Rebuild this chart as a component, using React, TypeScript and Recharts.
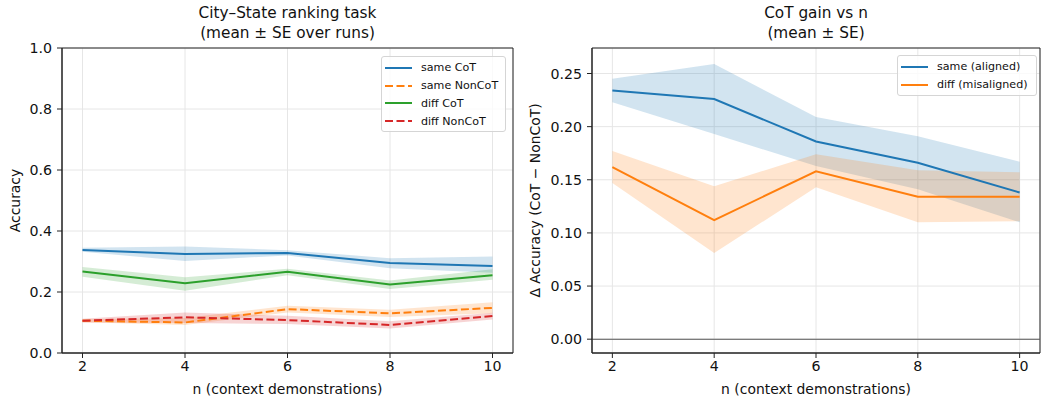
import { ComposedChart, Line, Area, XAxis, YAxis, CartesianGrid, ReferenceLine, ReferenceArea, Legend } from 'recharts';

const nValues = [2, 4, 6, 8, 10];
const xTicks = [2, 4, 6, 8, 10];

// left panel: accuracy mean and SE band edges
const sameCoT = [0.338, 0.325, 0.328, 0.295, 0.285];
const sameCoTLo = [0.332, 0.302, 0.32, 0.278, 0.263];
const sameCoTHi = [0.345, 0.349, 0.337, 0.311, 0.316];
const sameNonCoT = [0.106, 0.1, 0.144, 0.13, 0.148];
const sameNonCoTLo = [0.101, 0.092, 0.133, 0.118, 0.13];
const sameNonCoTHi = [0.111, 0.115, 0.155, 0.142, 0.166];
const diffCoT = [0.267, 0.229, 0.266, 0.225, 0.255];
const diffCoTLo = [0.25, 0.204, 0.255, 0.21, 0.24];
const diffCoTHi = [0.282, 0.248, 0.276, 0.238, 0.275];
const diffNonCoT = [0.106, 0.117, 0.108, 0.092, 0.121];
const diffNonCoTLo = [0.1, 0.098, 0.095, 0.08, 0.11];
const diffNonCoTHi = [0.112, 0.133, 0.122, 0.104, 0.132];
const leftYTicks = [0, 0.2, 0.4, 0.6, 0.8, 1.0];

// right panel: CoT gain
const sameGain = [0.234, 0.226, 0.186, 0.166, 0.138];
const sameGainLo = [0.223, 0.193, 0.163, 0.141, 0.11];
const sameGainHi = [0.245, 0.259, 0.209, 0.191, 0.167];
const diffGain = [0.162, 0.112, 0.158, 0.134, 0.134];
const diffGainLo = [0.147, 0.081, 0.143, 0.11, 0.111];
const diffGainHi = [0.177, 0.144, 0.174, 0.159, 0.157];
const rightYTicks = [0, 0.05, 0.1, 0.15, 0.2, 0.25];

const BLUE = '#1f77b4';
const ORANGE = '#ff7f0e';
const GREEN = '#2ca02c';
const RED = '#d62728';
const FONT = '"DejaVu Sans", sans-serif';
const TEXT = '#111';

const leftData = nValues.map((n, i) => ({
  n,
  sameCoT: sameCoT[i],
  sameCoTBand: [sameCoTLo[i], sameCoTHi[i]],
  sameNonCoT: sameNonCoT[i],
  sameNonCoTBand: [sameNonCoTLo[i], sameNonCoTHi[i]],
  diffCoT: diffCoT[i],
  diffCoTBand: [diffCoTLo[i], diffCoTHi[i]],
  diffNonCoT: diffNonCoT[i],
  diffNonCoTBand: [diffNonCoTLo[i], diffNonCoTHi[i]],
}));

const rightData = nValues.map((n, i) => ({
  n,
  same: sameGain[i],
  sameBand: [sameGainLo[i], sameGainHi[i]],
  diff: diffGain[i],
  diffBand: [diffGainLo[i], diffGainHi[i]],
}));

const leftSeries = [
  { key: 'sameCoT', name: 'same CoT', color: BLUE, dash: undefined },
  { key: 'sameNonCoT', name: 'same NonCoT', color: ORANGE, dash: '8 3.5' },
  { key: 'diffCoT', name: 'diff CoT', color: GREEN, dash: undefined },
  { key: 'diffNonCoT', name: 'diff NonCoT', color: RED, dash: '8 3.5' },
];

const rightSeries = [
  { key: 'same', name: 'same (aligned)', color: BLUE, dash: undefined },
  { key: 'diff', name: 'diff (misaligned)', color: ORANGE, dash: undefined },
];

type S = { key: string; name: string; color: string; dash?: string };

function LegendBox({ items, width }: { items: S[]; width: number }) {
  return (
    <div
      style={{
        width,
        boxSizing: 'border-box',
        border: '1px solid #d5d5d5',
        borderRadius: 3,
        background: 'rgba(255,255,255,0.8)',
        padding: '2px 4px 1px 3px',
        fontFamily: FONT,
        fontSize: 11.1,
        color: TEXT,
      }}
    >
      {items.map((s) => (
        <div key={s.key} style={{ display: 'flex', alignItems: 'center', height: 17.8 }}>
          <svg width={28} height={8} style={{ marginRight: 8 }}>
            <line x1={0} x2={27} y1={4} y2={4} stroke={s.color} strokeWidth={2} strokeDasharray={s.dash} />
          </svg>
          <span>{s.name}</span>
        </div>
      ))}
    </div>
  );
}

const tickStyle = { fontSize: 14.2, fill: TEXT, fontFamily: FONT };
const labelStyle = { fontSize: 13.9, fill: TEXT, fontFamily: FONT };
const axisStroke = '#222';

function Title({ lines, center }: { lines: string[]; center: number }) {
  return (
    <div
      style={{
        position: 'absolute',
        left: center - 200,
        width: 400,
        top: 3,
        textAlign: 'center',
        fontFamily: FONT,
        fontSize: 15.3,
        lineHeight: '20px',
        color: TEXT,
      }}
    >
      {lines.map((l) => (
        <div key={l}>{l}</div>
      ))}
    </div>
  );
}

export default function App() {
  return (
    <div style={{ position: 'absolute', left: 0, top: 0, width: 1041, height: 398, background: '#fff' }}>
      <Title lines={['City–State ranking task', '(mean ± SE over runs)']} center={287.5} />
      <Title lines={['CoT gain vs n', '(mean ± SE)']} center={816} />

      <div style={{ position: 'absolute', left: 0, top: 0 }}>
        <ComposedChart width={520} height={398} data={leftData} margin={{ top: 48, right: 7, bottom: 0, left: 12 }}>
          <CartesianGrid stroke="#e6e6e6" strokeWidth={1} />
          <XAxis
            dataKey="n"
            type="number"
            domain={[1.6, 10.4]}
            ticks={xTicks}
            height={45}
            tick={tickStyle}
            tickSize={5}
            tickMargin={3}
            stroke={axisStroke}
            label={{ value: 'n (context demonstrations)', position: 'insideBottom', offset: 4, style: labelStyle }}
          />
          <YAxis
            type="number"
            domain={[0, 1]}
            ticks={leftYTicks}
            width={50}
            tick={tickStyle}
            tickSize={5}
            tickMargin={5}
            tickFormatter={(v: number) => v.toFixed(1)}
            stroke={axisStroke}
            label={{ value: 'Accuracy', angle: -90, position: 'insideLeft', offset: 3, style: { ...labelStyle, textAnchor: 'middle' } }}
          />
          <ReferenceArea x1={1.6} x2={10.4} y1={0} y2={1} fill="none" stroke={axisStroke} strokeWidth={1} />
          {leftSeries.map((s) => (
            <Area
              key={s.key + 'band'}
              dataKey={s.key + 'Band'}
              type="linear"
              stroke="none"
              fill={s.color}
              fillOpacity={0.2}
              legendType="none"
              isAnimationActive={false}
            />
          ))}
          {leftSeries.map((s) => (
            <Line
              key={s.key}
              dataKey={s.key}
              name={s.name}
              type="linear"
              stroke={s.color}
              strokeWidth={2}
              strokeDasharray={s.dash}
              dot={false}
              activeDot={false}
              isAnimationActive={false}
            />
          ))}
          <Legend
            layout="horizontal"
            verticalAlign="middle"
            align="center"
            wrapperStyle={{ left: 381, top: 56, width: 125, height: 'auto' }}
            content={() => <LegendBox items={leftSeries} width={125} />}
          />
        </ComposedChart>
      </div>

      <div style={{ position: 'absolute', left: 520, top: 0 }}>
        <ComposedChart width={521} height={398} data={rightData} margin={{ top: 48, right: 1, bottom: 0, left: 22 }}>
          <CartesianGrid stroke="#e6e6e6" strokeWidth={1} />
          <XAxis
            dataKey="n"
            type="number"
            domain={[1.6, 10.4]}
            ticks={xTicks}
            height={45}
            tick={tickStyle}
            tickSize={5}
            tickMargin={3}
            stroke={axisStroke}
            label={{ value: 'n (context demonstrations)', position: 'insideBottom', offset: 4, style: labelStyle }}
          />
          <YAxis
            type="number"
            domain={[-0.013, 0.274]}
            allowDataOverflow
            ticks={rightYTicks}
            width={50}
            tick={tickStyle}
            tickSize={5}
            tickMargin={5}
            tickFormatter={(v: number) => v.toFixed(2)}
            stroke={axisStroke}
            label={{ value: 'Δ Accuracy (CoT − NonCoT)', angle: -90, position: 'insideLeft', offset: -7, style: { ...labelStyle, textAnchor: 'middle' } }}
          />
          <ReferenceArea x1={1.6} x2={10.4} y1={-0.013} y2={0.274} fill="none" stroke={axisStroke} strokeWidth={1} />
          <ReferenceLine y={0} stroke="#555" strokeWidth={1.1} />
          {rightSeries.map((s) => (
            <Area
              key={s.key + 'band'}
              dataKey={s.key + 'Band'}
              type="linear"
              stroke="none"
              fill={s.color}
              fillOpacity={0.2}
              legendType="none"
              isAnimationActive={false}
            />
          ))}
          {rightSeries.map((s) => (
            <Line
              key={s.key}
              dataKey={s.key}
              name={s.name}
              type="linear"
              stroke={s.color}
              strokeWidth={2}
              dot={false}
              activeDot={false}
              isAnimationActive={false}
            />
          ))}
          <Legend
            layout="horizontal"
            verticalAlign="middle"
            align="center"
            wrapperStyle={{ left: 377, top: 55, width: 140, height: 'auto' }}
            content={() => <LegendBox items={rightSeries} width={140} />}
          />
        </ComposedChart>
      </div>
    </div>
  );
}
